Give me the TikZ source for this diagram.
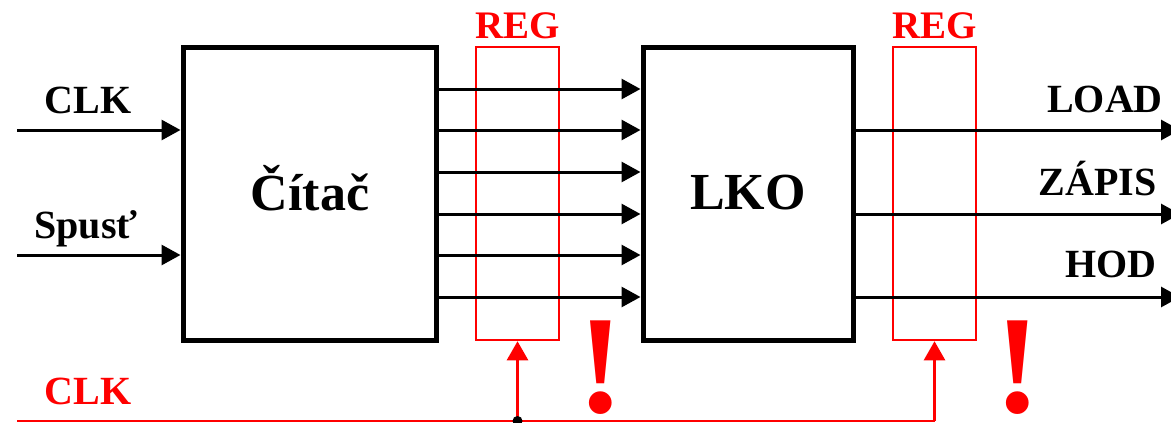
\documentclass[tikz,border=0pt]{standalone}
\usepackage{fontspec}
\setmainfont{Liberation Serif}
\usetikzlibrary{arrows.meta, positioning, calc}

\tikzset{
  blok/.style={draw, line width=5pt, minimum width=253pt, minimum height=293pt, inner sep=0pt,
    font=\fontsize{52}{52}\selectfont\bfseries},
  reg/.style={draw=red, line width=2.5pt, minimum width=83pt, minimum height=293pt, inner sep=0pt},
  sig/.style={line width=3pt, -{Triangle[length=19pt,width=20pt]}},
  takt/.style={red, line width=2.5pt, -{Triangle[length=19pt,width=21pt]}},
  lbl/.style={font=\fontsize{40}{40}\selectfont\bfseries, inner sep=0pt},
  vykric/.style={red, font=\fontsize{140}{140}\selectfont\bfseries, inner sep=0pt, anchor=base},
}

\begin{document}
\begin{tikzpicture}[x=1pt, y=-1pt]
  \useasboundingbox (0,0) rectangle (1171,423);

  % bloky
  \node[blok] (citac) at (309.5,193.5) {};
  \node[blok, minimum width=210pt] (lko) at (748,193.5) {};
  \node[font=\fontsize{52}{52}\selectfont\bfseries, anchor=base, inner sep=0pt] (tcitac) at (310,210) {Čítač};
  \node[font=\fontsize{52}{52}\selectfont\bfseries, anchor=base, inner sep=0pt] (tlko) at (748,209) {LKO};

  % registre
  \node[reg] (reg1) at (517.5,193.5) {};
  \node[reg] (reg2) at (934.5,193.5) {};
  \node[lbl, red, anchor=base, font=\fontsize{39}{39}\selectfont\bfseries] (treg1) at (517.5,38) {REG};
  \node[lbl, red, anchor=base, font=\fontsize{39}{39}\selectfont\bfseries] (treg2) at (934.5,38) {REG};

  % vstupy
  \coordinate (in1) at (17,130);
  \coordinate (in2) at (17,255);
  \draw[sig] (in1) -- (in1 -| citac.west);
  \draw[sig] (in2) -- (in2 -| citac.west);
  \node[lbl, anchor=base] (tclk) at (88,113) {CLK};
  \node[lbl, anchor=base] (tspust) at (86,238) {Spusť};

  % zbernica
  \foreach \y in {89,130,172,214,255,297} {
    \coordinate (b) at (0,\y);
    \draw[sig] (b -| citac.east) -- (b -| lko.west);
  }

  % vystupy
  \foreach \y/\name in {130/o1,214/o2,297/o3} {
    \coordinate (\name) at (1180,\y);
    \draw[sig] (\name -| lko.east) -- (\name);
  }
  \node[lbl, anchor=base east] (tload) at (1163,112) {LOAD};
  \node[lbl, anchor=base east] (tzapis) at (1157,195) {ZÁPIS};
  \node[lbl, anchor=base east] (thod) at (1157,277) {HOD};

  % hodiny registrov
  \coordinate (clk0) at (17,421);
  \coordinate (uzol) at (reg1.south |- clk0);
  \coordinate (clk1) at (reg2.south |- clk0);
  \draw[red, line width=2.5pt] (clk0) -- (clk1);
  \draw[takt] (uzol) -- (reg1.south);
  \draw[takt] (clk1) -- (reg2.south);
  \fill (uzol) circle (5pt);
  \node[lbl, red, anchor=base] (tclk2) at (88,404) {CLK};

  \node[vykric] (v1) at (601,412) {!};
  \node[vykric] (v2) at (1018,412) {!};
\end{tikzpicture}
\end{document}
